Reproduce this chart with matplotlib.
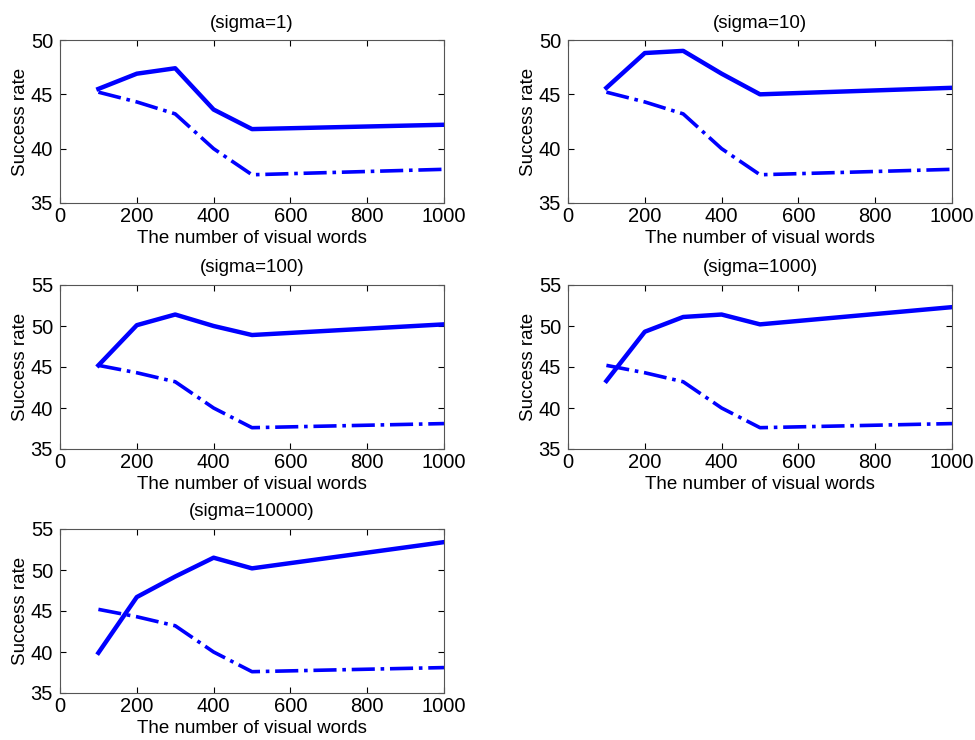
import matplotlib.pyplot as plt
import numpy as np

plt.rcParams['font.family'] = ['Liberation Sans', 'DejaVu Sans']

# number of visual words
words = [100, 200, 300, 400, 500, 1000]
# baseline (dash-dot), same in every panel
baseline = [45.2, 44.3, 43.2, 40.0, 37.6, 38.1]
# solid curves, one per sigma
sigma_labels = ['(sigma=1)', '(sigma=10)', '(sigma=100)', '(sigma=1000)', '(sigma=10000)']
rate_s1 = [45.5, 46.9, 47.4, 43.6, 41.8, 42.2]
rate_s10 = [45.6, 48.8, 49.0, 46.9, 45.0, 45.6]
rate_s100 = [45.2, 50.1, 51.4, 50.0, 48.9, 50.2]
rate_s1000 = [43.3, 49.3, 51.1, 51.4, 50.2, 52.3]
rate_s10000 = [39.9, 46.7, 49.2, 51.5, 50.2, 53.4]
rates = [rate_s1, rate_s10, rate_s100, rate_s1000, rate_s10000]
ylims = [(35, 50), (35, 50), (35, 55), (35, 55), (35, 55)]

W, H = 975, 740
fig = plt.figure(figsize=(W/100, H/100), dpi=100)

# axes boxes in pixels: left, top, right, bottom
boxes = [(60, 40, 444, 203), (568, 40, 952, 203),
         (60, 285, 444, 449), (568, 285, 952, 449),
         (60, 529, 444, 693)]

for i in range(5):
    l, t, r, b = boxes[i]
    ax = fig.add_axes([l/W, 1-b/H, (r-l)/W, (b-t)/H])
    ax.plot(words, rates[i], color='#0000ff', lw=3.2)
    ax.plot(words, baseline, color='#0000ff', lw=2.6, ls='-.')
    ax.set_xlim(0, 1000)
    ax.set_ylim(*ylims[i])
    ax.set_yticks(np.arange(ylims[i][0], ylims[i][1]+1, 5))
    ax.set_xticks(np.arange(0, 1001, 200))
    ax.tick_params(direction='in', top=True, right=True, labelsize=14.5, length=4)
    ax.tick_params(axis='x', pad=3)
    ax.tick_params(axis='y', pad=5)
    ax.set_xlabel('The number of visual words', fontsize=13.5, labelpad=3)
    ax.set_ylabel('Success rate', fontsize=13.5, labelpad=1)
    ax.set_title(sigma_labels[i], fontsize=13.5, pad=9)
    for s in ax.spines.values():
        s.set_color('#555555')

plt.savefig('out.png', dpi=100)
